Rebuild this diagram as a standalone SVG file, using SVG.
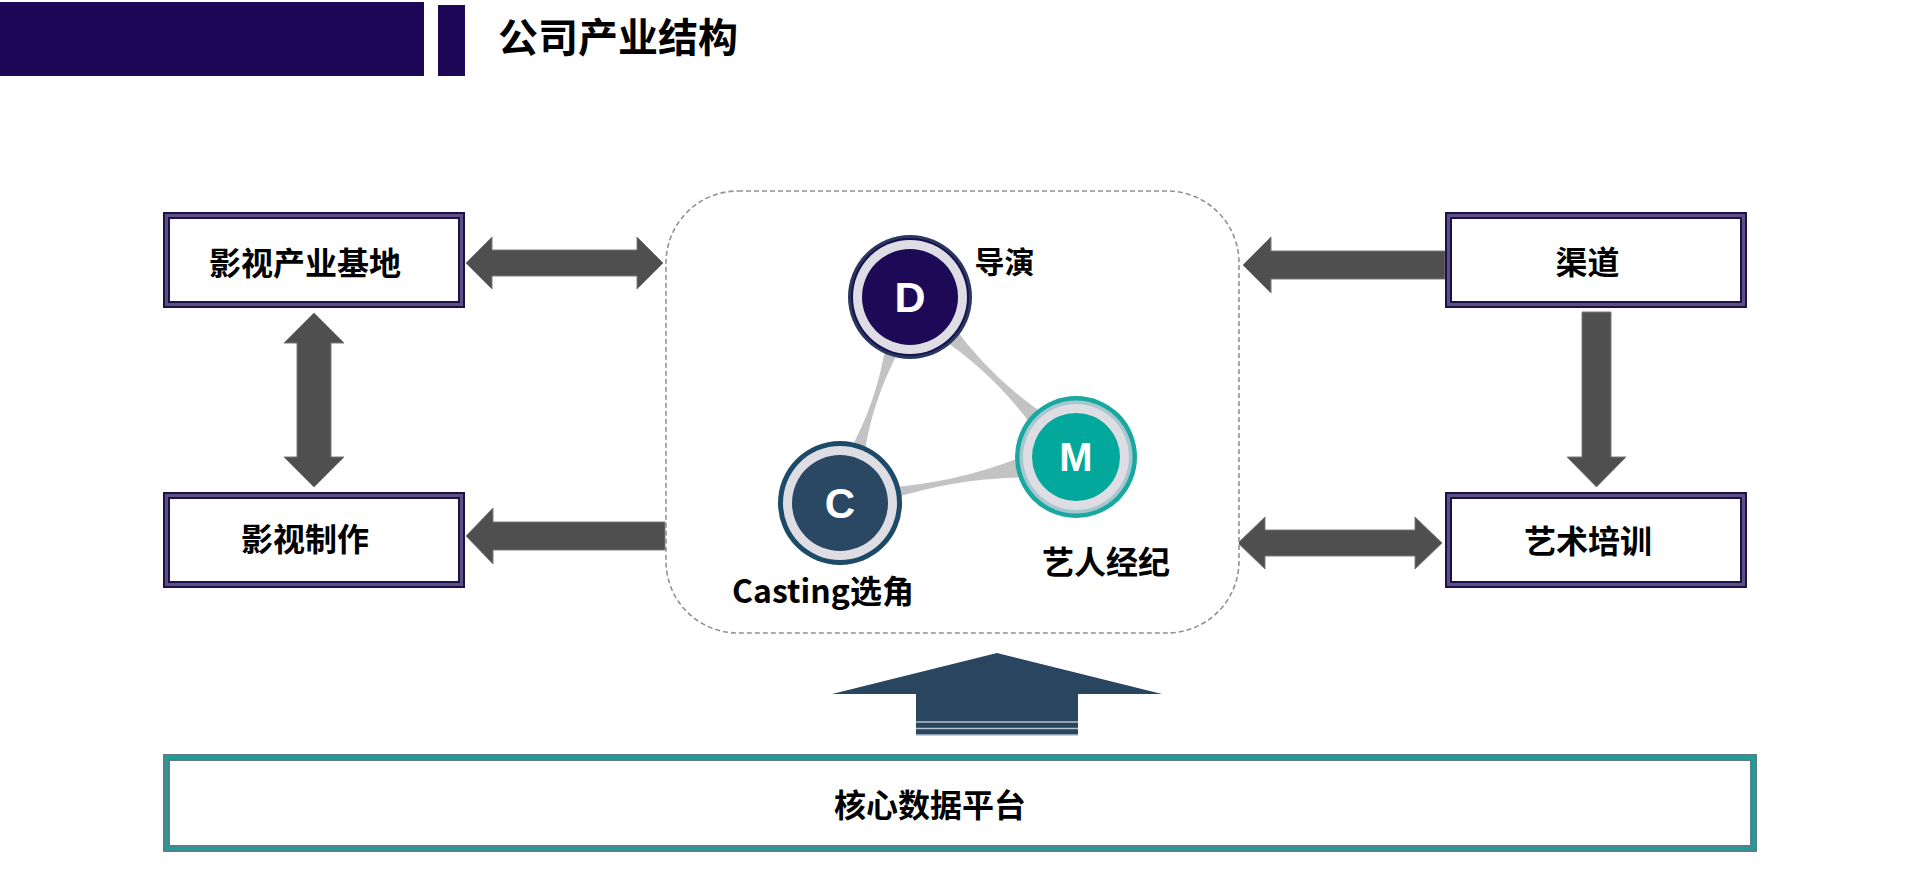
<svg xmlns="http://www.w3.org/2000/svg" width="1920" height="878" viewBox="0 0 1920 878">
<style>
.box-o{fill:#ffffff;stroke:#1c1248;stroke-width:7}
.box-i{fill:none;stroke:#5b4f84;stroke-width:3}
.lbl{font-family:"Noto Sans CJK SC","Noto Sans",sans-serif;font-weight:bold;fill:#000000}
.arr{fill:#4f4f4f;stroke:#7a7a7a;stroke-width:1}
.band{fill:#c3c3c3}
.ring{fill:#dedde3}
.letter{font-family:"Liberation Sans",Arial,sans-serif;font-weight:bold;fill:#ffffff;text-anchor:middle}
</style>
<rect width="1920" height="878" fill="#ffffff"/>
<g id="header">
<rect x="0" y="2" width="424" height="74" fill="#1e0757"/>
<rect x="438" y="5" width="27" height="71" fill="#1e0757"/>
<text class="lbl" x="498" y="52" font-size="40">公司产业结构</text>
</g>
<g id="connectors">
<polygon class="arr" points="466,263 492,237 492,250 637,250 637,237 663,263 637,289 637,276 492,276 492,289"/>
<polygon class="arr" points="314,313 344,343 331,343 331,457 344,457 314,487 284,457 297,457 297,343 284,343"/>
<polygon class="arr" points="466,536 493,508 493,522 665,522 665,550 493,550 493,564"/>
<polygon class="arr" points="1243,265 1271,237 1271,251 1445,251 1445,279 1271,279 1271,293"/>
<polygon class="arr" points="1582,312 1611,312 1611,457 1626,457 1596.5,487 1567,457 1582,457"/>
<polygon class="arr" points="1238,543 1265,517 1265,530 1415,530 1415,517 1442,543 1415,569 1415,556 1265,556 1265,569"/>
<g id="up-arrow">
<polygon points="997,653 1162,694 1078,694 1078,735 916,735 916,694 832,694" fill="#29455f"/>
<line x1="916" y1="722" x2="1078" y2="722" stroke="#b5c2cf" stroke-width="1.5"/>
<line x1="916" y1="728.5" x2="1078" y2="728.5" stroke="#b5c2cf" stroke-width="1.5"/>
<line x1="916" y1="735" x2="1078" y2="735" stroke="#b5c2cf" stroke-width="1.5"/>
</g>
</g>
<g id="node-base">
<rect class="box-o" x="166.5" y="215.5" width="295" height="89"/>
<rect class="box-i" x="166.5" y="215.5" width="295" height="89"/>
<text class="lbl" x="305" y="275" font-size="32" text-anchor="middle">影视产业基地</text>
</g>
<g id="node-production">
<rect class="box-o" x="166.5" y="495.5" width="295" height="89"/>
<rect class="box-i" x="166.5" y="495.5" width="295" height="89"/>
<text class="lbl" x="305" y="551" font-size="32" text-anchor="middle">影视制作</text>
</g>
<g id="node-channel">
<rect class="box-o" x="1448.5" y="215.5" width="295" height="89"/>
<rect class="box-i" x="1448.5" y="215.5" width="295" height="89"/>
<text class="lbl" x="1587.5" y="274" font-size="32" text-anchor="middle">渠道</text>
</g>
<g id="node-training">
<rect class="box-o" x="1448.5" y="495.5" width="295" height="89"/>
<rect class="box-i" x="1448.5" y="495.5" width="295" height="89"/>
<text class="lbl" x="1588" y="553" font-size="32" text-anchor="middle">艺术培训</text>
</g>
<g id="node-core">
<rect x="166.5" y="757.5" width="1587" height="91" fill="#ffffff" stroke="#5f7c88" stroke-width="7"/>
<rect x="166.5" y="757.5" width="1587" height="91" fill="none" stroke="#1f9d96" stroke-width="3.5"/>
<text class="lbl" x="930" y="817" font-size="32" text-anchor="middle">核心数据平台</text>
</g>
<g id="node-center">
<rect x="666" y="191" width="573" height="442" rx="72" ry="72" fill="#ffffff" stroke="#8c929c" stroke-width="1.6" stroke-dasharray="5 3"/>
<g id="bands">
<path class="band" d="M901.56,345.93 Q872.16,398.54 863.60,458.20 L848.44,453.08 Q877.84,400.46 886.40,340.81 Z"/>
<path class="band" d="M939.62,337.27 Q995.09,374.35 1033.84,428.65 L1046.38,415.73 Q990.91,378.65 952.16,324.35 Z"/>
<path class="band" d="M890.23,499.32 Q957.52,477.55 1029.03,477.36 L1024.83,455.76 Q958.48,482.45 887.93,487.54 Z"/>
</g>
<g id="circle-d">
<circle cx="910" cy="297" r="62" fill="#28385f"/>
<circle cx="910" cy="297" r="59" fill="#1a1050"/>
<circle cx="910" cy="297" r="57" class="ring"/>
<circle cx="910" cy="297" r="48" fill="#1c0a57"/>
<text class="letter" x="910" y="312" font-size="43">D</text>
</g>
<g id="circle-m">
<circle cx="1076" cy="457" r="61" fill="#18a8a0"/>
<circle cx="1076" cy="457" r="56.5" fill="#a6c7cf"/>
<circle cx="1076" cy="457" r="53" class="ring"/>
<circle cx="1076" cy="457" r="44" fill="#03a89c"/>
<text class="letter" x="1076" y="471" font-size="40">M</text>
</g>
<g id="circle-c">
<circle cx="840" cy="503" r="62" fill="#1d4a68"/>
<circle cx="840" cy="503" r="57" class="ring"/>
<circle cx="840" cy="503" r="48" fill="#2a4764"/>
<text class="letter" x="840" y="518" font-size="42">C</text>
</g>
<text class="lbl" x="1004.5" y="273" font-size="30" text-anchor="middle">导演</text>
<text class="lbl" x="1106" y="574" font-size="32" text-anchor="middle">艺人经纪</text>
<text class="lbl" x="823" y="603" font-size="32" text-anchor="middle">Casting选角</text>
</g>
</svg>
